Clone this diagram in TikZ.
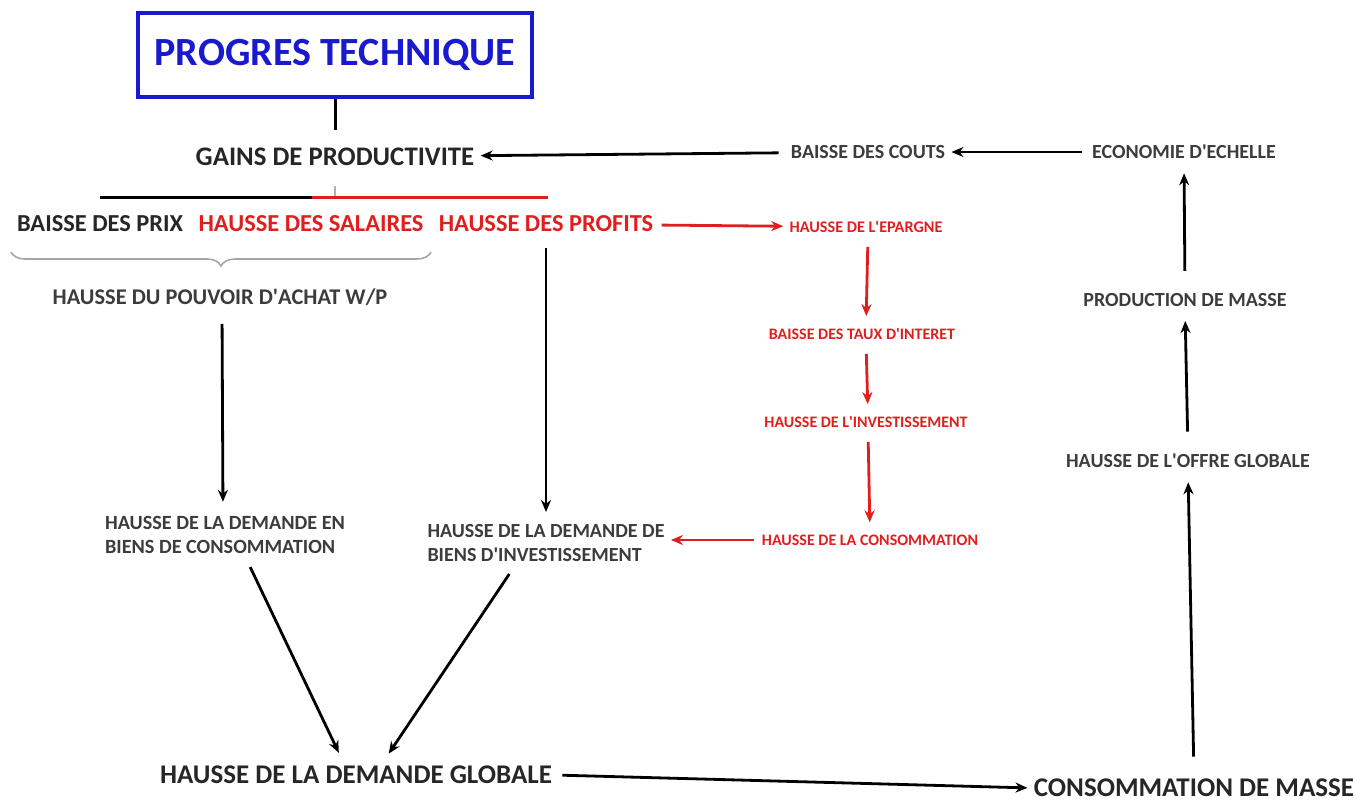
\documentclass[tikz,border=0pt]{standalone}
\usepackage{fontspec}
\setmainfont{Carlito}
\usepackage{xcolor}
\usepackage{tikz}
\usetikzlibrary{arrows.meta,decorations.pathreplacing}
\definecolor{ptblue}{RGB}{25,25,205}
\definecolor{fred}{RGB}{225,30,30}
\definecolor{fgrey}{RGB}{60,60,60}
\newcommand{\fsz}[1]{\fontsize{#1}{1.2\dimexpr#1pt\relax}\selectfont\bfseries}
\newcommand{\ap}{\textquotesingle}

\begin{document}
\begin{tikzpicture}[x=0.5pt,y=-0.5pt,
  lbl/.style={inner sep=1pt,text=black!85},
  big/.style={lbl,font=\fsz{13.5}},
  mid/.style={lbl,font=\fsz{12.2}},
  sml/.style={lbl,text=fgrey,font=\fsz{10}},
  rsm/.style={lbl,text=fred,font=\fsz{8}},
  arr/.style={-{Stealth[length=6pt,width=5pt]},line width=1.4pt},
  rarr/.style={arr,fred}]
\useasboundingbox (0,0) rectangle (1356,803);

% top of the chain
\node[draw=ptblue,line width=1.6pt,text=ptblue,font=\fsz{20},
  minimum width=197pt,minimum height=42pt] (pt) at (335,55) {PROGRES TECHNIQUE};
\node[big,font=\fsz{13.4}] (gains) at (335,157) {GAINS DE PRODUCTIVITE};

\draw[line width=1.5pt] (pt.south) -- ++(0,31);
\draw[line width=1.5pt] (100,197) -- (312,197);
\draw[line width=1.5pt,fred] (312,197) -- (548,197);
\draw[gray!60,line width=1pt] (335,186) -- (335,196);

\node[mid] (prix) at (100,224) {BAISSE DES PRIX};
\node[mid,text=fred] (salaires) at (311,224) {HAUSSE DES SALAIRES};
\node[mid,text=fred] (profits) at (546,224) {HAUSSE DES PROFITS};

\draw[gray!70,line width=0.8pt,decorate,decoration={brace,mirror,amplitude=7pt}]
  (11,252) -- (431,252);
\node[sml,font=\fsz{11.2}] (pouvoir) at (220,297) {HAUSSE DU POUVOIR D\ap ACHAT W/P};

\node[sml,align=left,font=\fsz{10.1}] (demEn) at (225,535) {HAUSSE DE LA DEMANDE EN\\BIENS DE CONSOMMATION};
\node[sml,align=left,font=\fsz{10}] (demDe) at (546,543) {HAUSSE DE LA DEMANDE DE\\BIENS D\ap INVESTISSEMENT};
\node[big] (globale) at (356,775) {HAUSSE DE LA DEMANDE GLOBALE};

% red branch
\node[rsm,font=\fsz{8.1}] (epargne) at (866,227) {HAUSSE DE L\ap EPARGNE};
\node[rsm] (taux) at (862,334) {BAISSE DES TAUX D\ap INTERET};
\node[rsm] (invest) at (866,422) {HAUSSE DE L\ap INVESTISSEMENT};
\node[rsm] (conso) at (870,540) {HAUSSE DE LA CONSOMMATION};

% right column
\node[sml] (couts) at (868,152) {BAISSE DES COUTS};
\node[sml] (echelle) at (1184,152) {ECONOMIE D\ap ECHELLE};
\node[sml] (production) at (1185,300) {PRODUCTION DE MASSE};
\node[sml] (offre) at (1188,461) {HAUSSE DE L\ap OFFRE GLOBALE};
\node[big] (masse) at (1194,788) {CONSOMMATION DE MASSE};

\draw[arr,shorten <=5pt,shorten >=2pt] (couts) -- (gains);
\draw[arr,shorten <=4pt,shorten >=2pt] (echelle) -- (couts);
\draw[rarr,shorten <=3pt,shorten >=2pt] (profits) -- (epargne);
\draw[rarr,shorten <=6pt,shorten >=5pt] ([xshift=1pt]epargne.south) -- ([xshift=2pt]taux.north);
\draw[rarr,shorten <=6pt,shorten >=5pt] ([xshift=2pt]taux.south) -- ([xshift=1pt]invest.north);
\draw[rarr,shorten <=6pt,shorten >=5pt] ([xshift=1pt]invest.south) -- (conso.north);
\draw[rarr,shorten <=3pt,shorten >=2pt] (conso) -- (conso -| demDe.east);

\draw[arr,shorten <=7pt,shorten >=5pt] (profits.south) -- (profits.south |- demDe.north);
\draw[arr,shorten <=8pt,shorten >=6pt] ([xshift=1pt]pouvoir.south) -- ([xshift=-1pt]demEn.north);
\draw[arr,shorten <=6pt,shorten >=6pt] ([xshift=10pt]demEn.south) -- ([xshift=-6pt]globale.north);
\draw[arr,shorten <=6pt,shorten >=6pt] ([xshift=-15pt]demDe.south) -- ([xshift=13pt]globale.north);
\draw[arr,shorten <=4pt,shorten >=2pt] (globale.east) -- (masse.west);

\draw[arr,shorten <=10pt,shorten >=6pt] (masse.north) -- (offre.south);
\draw[arr,shorten <=10pt,shorten >=6pt] (offre.north) -- (production.south);
\draw[arr,shorten <=10pt,shorten >=6pt] (production.north) -- (echelle.south);
\end{tikzpicture}
\end{document}
